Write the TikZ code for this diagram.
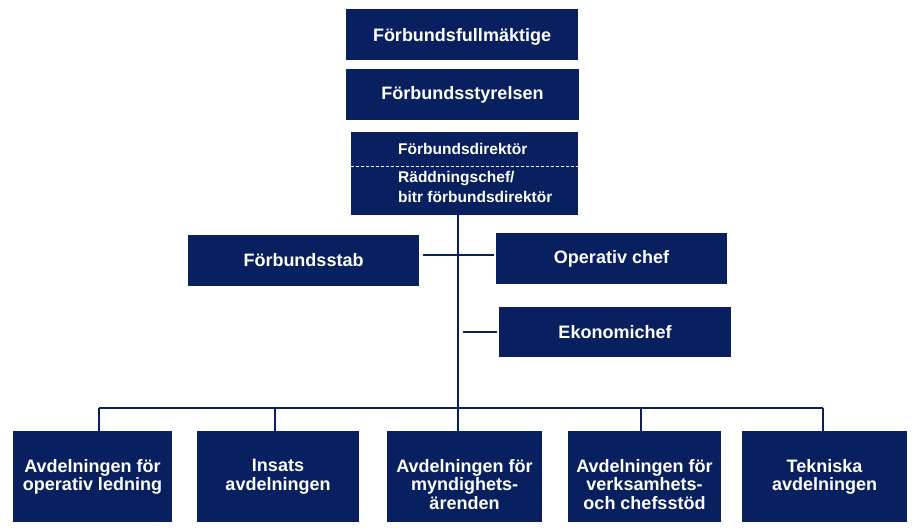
\documentclass[tikz,border=0pt]{standalone}
\usepackage{fontspec}
\setmainfont{Liberation Sans}
\definecolor{navy}{RGB}{8,32,96}
\begin{document}
\begin{tikzpicture}[x=1pt,y=-1pt,
  box/.style={fill=navy,draw=none,inner sep=0pt,text=white,align=center,
    font=\fontsize{18}{19}\selectfont\bfseries},
  boxtext/.style={anchor=north,inner sep=0pt,text=white,align=center,
    font=\fontsize{18}{18.5}\selectfont\bfseries},
  dirtext/.style={anchor=west,inner sep=0pt,text=white,
    font=\fontsize{15.5}{17}\selectfont\bfseries},
  conn/.style={draw=navy,line width=2.6pt}]
\useasboundingbox (0,0) rectangle (920,530);
% top column
\node[box,minimum width=232pt,minimum height=51pt] (full) at (462,34.5) {};
\node[box] (fullt) at (462,37) {Förbundsfullmäktige};
\node[box,minimum width=233pt,minimum height=51pt] (styr) at (462.5,94.5) {Förbundsstyrelsen};
\node[box,minimum width=227pt,minimum height=83pt] (dir) at (464.5,173.5) {};
\draw[white,line width=0.9pt,dash pattern=on 3pt off 2pt] (dir.west |- 0,166) -- (dir.east |- 0,166);
\node[dirtext] (dirA) at (398,149) {Förbundsdirektör};
\node[dirtext] (dirB) at (398,178.5) {Räddningschef/};
\node[dirtext] (dirC) at (398,196.5) {bitr förbundsdirektör};
% staff
\node[box,minimum width=231pt,minimum height=51pt] (stab) at (303.5,260.5) {Förbundsstab};
\node[box,minimum width=231pt,minimum height=51pt] (op) at (611.5,258.5) {Operativ chef};
\node[box,minimum width=232pt,minimum height=50pt] (eko) at (615,332) {Ekonomichef};
% departments
\node[box,minimum width=159pt,minimum height=91pt] (b1) at (92.5,476.5) {};
\node[box,minimum width=162pt,minimum height=91pt] (b2) at (278,476.5) {};
\node[box,minimum width=155pt,minimum height=91pt] (b3) at (464.5,476.5) {};
\node[box,minimum width=153pt,minimum height=91pt] (b4) at (644.5,476.5) {};
\node[box,minimum width=165pt,minimum height=91pt] (b5) at (824.5,476.5) {};
\node[boxtext] (t1) at (92.5,459) {Avdelningen för\\operativ ledning};
\node[boxtext] (t2) at (278,459) {Insats\\avdelningen};
\node[boxtext] (t3) at (464.5,459) {Avdelningen för\\myndighets-\\ärenden};
\node[boxtext] (t4) at (644.5,459) {Avdelningen för\\verksamhets-\\och chefsstöd};
\node[boxtext] (t5) at (824.5,459) {Tekniska\\avdelningen};
% connectors
\coordinate (tx) at (458,0);
\coordinate (d1) at (99,408);
\coordinate (d2) at (275,408);
\coordinate (d4) at (641,408);
\coordinate (d5) at (823,408);
\draw[conn] (tx |- dir.south) -- (tx |- b3.north);
\draw[conn] ([xshift=4pt]stab.east |- 0,255) -- ([xshift=-2pt]op.west |- 0,255);
\draw[conn] ([xshift=5pt]tx |- eko.west) -- ([xshift=-2pt]eko.west);
\draw[conn] (d1) -- (d5);
\draw[conn] (d1) -- ([yshift=-3pt]d1 |- b1.north);
\draw[conn] (d2) -- ([yshift=-3pt]d2 |- b2.north);
\draw[conn] (d4) -- ([yshift=-3pt]d4 |- b4.north);
\draw[conn] (d5) -- ([yshift=-3pt]d5 |- b5.north);
\end{tikzpicture}
\end{document}
